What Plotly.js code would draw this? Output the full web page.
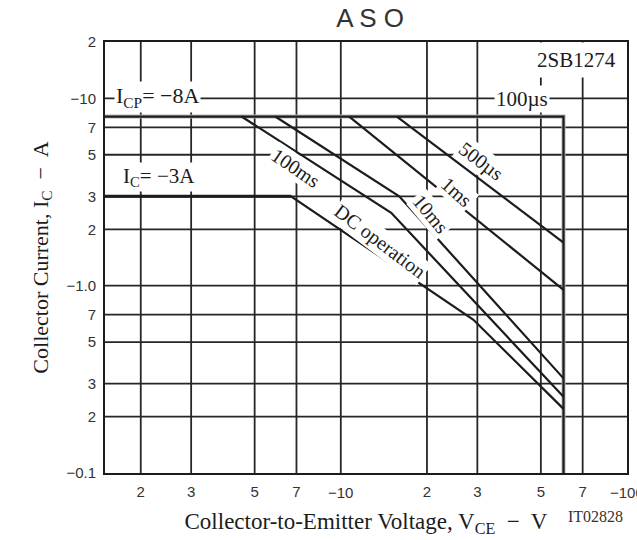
<!DOCTYPE html>
<html>
<head>
<meta charset="utf-8">
<script src="https://cdn.plot.ly/plotly-3.0.1.min.js"></script>
<style>
  html, body { margin: 0; padding: 0; background: #fff; }
  #chart { width: 637px; height: 540px; }
</style>
</head>
<body>
<div id="chart"></div>
<script>
// Safe operating area of 2SB1274: collector current vs collector-emitter voltage (magnitudes)
const vceTicks    = [2, 3, 5, 7, 10, 20, 30, 50, 70, 100];
const vceTickText = ['2', '3', '5', '7', '−10', '2', '3', '5', '7', '−100'];
const vceDecades  = [10, 100];   // decade labels sit a little lower than the others
const icTicks    = [0.1, 0.2, 0.3, 0.5, 0.7, 1, 2, 3, 5, 7, 10, 20];
const icTickText = ['−0.1', '2', '3', '5', '7', '−1.0', '2', '3', '5', '7', '−10', '2'];

// Limit curves (V, A)
const pulse100usV = [1.5, 60, 60];
const pulse100usI = [8, 8, 0.1];
const pulse500usV = [15.7, 60];
const pulse500usI = [8, 1.7];
const pulse1msV = [10.7, 60];
const pulse1msI = [8, 0.95];
const pulse10msV = [5.9, 16, 60];
const pulse10msI = [8, 3.0, 0.32];
const pulse100msV = [4.5, 15, 60];
const pulse100msI = [8, 2.45, 0.255];
const dcV = [1.5, 6.7, 29, 60];
const dcI = [3, 3, 0.66, 0.22];

const curveLabels = ['100ms', 'DC operation', '10ms', '1ms', '500µs'];
const levelLabels = ['I<sub>CP</sub>= −8A', 'I<sub>C</sub>= −3A', '100µs', '2SB1274'];

const serif = 'Liberation Serif, Times New Roman, serif';
const sans = 'Liberation Sans, Arial, sans-serif';
const ink = '#1c1c1c';
const grid = '#262626';
const X_MIN = 1.5, X_MAX = 100, Y_MIN = 0.1, Y_MAX = 20;

function curve(x, y, width, color) {
  return { x: x, y: y, type: 'scatter', mode: 'lines', connectgaps: false,
           line: { color: color, width: width }, hoverinfo: 'skip', showlegend: false };
}

// Grid: one polyline trace, segments separated by gaps
const gridX = [], gridY = [];
vceTicks.filter(v => v > X_MIN && v < X_MAX).forEach(v => {
  gridX.push(v, v, null); gridY.push(Y_MIN, Y_MAX, null);
});
icTicks.filter(v => v > Y_MIN && v < Y_MAX).forEach(v => {
  gridX.push(X_MIN, X_MAX, null); gridY.push(v, v, null);
});

const traces = [
  curve(gridX, gridY, 1.8, grid),
  curve(pulse100usV, pulse100usI, 4, '#b4b4b4'),
  curve(pulse100usV, pulse100usI, 2.2, ink),
  curve(pulse500usV, pulse500usI, 2.2, ink),
  curve(pulse1msV, pulse1msI, 2.2, ink),
  curve(pulse10msV, pulse10msI, 2.2, ink),
  curve(pulse100msV, pulse100msI, 2.2, ink),
  curve(dcV, dcI, 2.2, ink),
  curve(dcV.slice(0, 2), dcI.slice(0, 2), 3, ink)
];

function label(text, x, y, size, angle, pad) {
  return { text: text, xref: 'paper', yref: 'paper', x: x, y: y,
           xanchor: 'center', yanchor: 'middle', showarrow: false,
           textangle: angle || 0, bgcolor: '#ffffff', borderpad: pad || 1,
           font: { family: serif, size: size, color: ink } };
}

const annotations = [
  label(levelLabels[0], 0.101, 0.872, 22),
  label(levelLabels[1], 0.103, 0.686, 21),
  label(levelLabels[2], 0.799, 0.868, 21),
  label(levelLabels[3], 0.904, 0.958, 21, 0, 5),
  label(curveLabels[0], 0.366, 0.708, 20, 34),
  label(curveLabels[1], 0.527, 0.538, 20, 37),
  label(curveLabels[2], 0.6245, 0.601, 20, 50),
  label(curveLabels[3], 0.674, 0.652, 20, 42),
  label(curveLabels[4], 0.720, 0.722, 20, 37),
  { text: 'IT02828', xref: 'paper', yref: 'paper', x: 0.9406, y: -0.0998,
    xanchor: 'center', yanchor: 'middle', showarrow: false,
    font: { family: serif, size: 16, color: '#333' } }
];

// x tick labels: regular ones through the axis, decade ones as annotations
const xTickVals = [], xTickText = [];
vceTicks.forEach(function (v, i) {
  if (vceDecades.indexOf(v) >= 0) {
    annotations.push({ text: vceTickText[i], xref: 'x', yref: 'paper',
      x: Math.log10(v), y: -0.046, xanchor: 'center', yanchor: 'middle',
      showarrow: false, font: { family: sans, size: 15, color: '#333' } });
  } else {
    xTickVals.push(v); xTickText.push(vceTickText[i]);
  }
});

const layout = {
  width: 637, height: 540,
  margin: { l: 105, r: 10, t: 42, b: 67 },
  paper_bgcolor: '#ffffff', plot_bgcolor: '#ffffff',
  showlegend: false,
  title: { text: 'A S O', x: 0.581, xref: 'container', y: 0.967, yref: 'container',
           xanchor: 'center', yanchor: 'middle',
           font: { family: sans, size: 26, color: '#333' } },
  xaxis: {
    type: 'log', range: [Math.log10(X_MIN), Math.log10(X_MAX)],
    tickmode: 'array', tickvals: xTickVals, ticktext: xTickText,
    ticks: '', ticklabelstandoff: 4,
    tickfont: { family: sans, size: 15, color: '#333' },
    showgrid: false,
    showline: true, linecolor: ink, linewidth: 2, mirror: true, zeroline: false,
    title: { text: 'Collector-to-Emitter Voltage, V<sub>CE</sub>  −  V', standoff: 14,
             font: { family: serif, size: 23, color: ink } }
  },
  yaxis: {
    type: 'log', range: [Math.log10(Y_MIN), Math.log10(Y_MAX)],
    tickmode: 'array', tickvals: icTicks, ticktext: icTickText,
    ticks: '', ticklabelstandoff: 4,
    tickfont: { family: sans, size: 15, color: '#333' },
    showgrid: false,
    showline: true, linecolor: ink, linewidth: 2, mirror: true, zeroline: false,
    title: { text: 'Collector Current, I<sub>C</sub>  −  A', standoff: 12,
             font: { family: serif, size: 22, color: ink } }
  },
  annotations: annotations
};

Plotly.newPlot('chart', traces, layout, { staticPlot: true, displayModeBar: false });
</script>
</body>
</html>
